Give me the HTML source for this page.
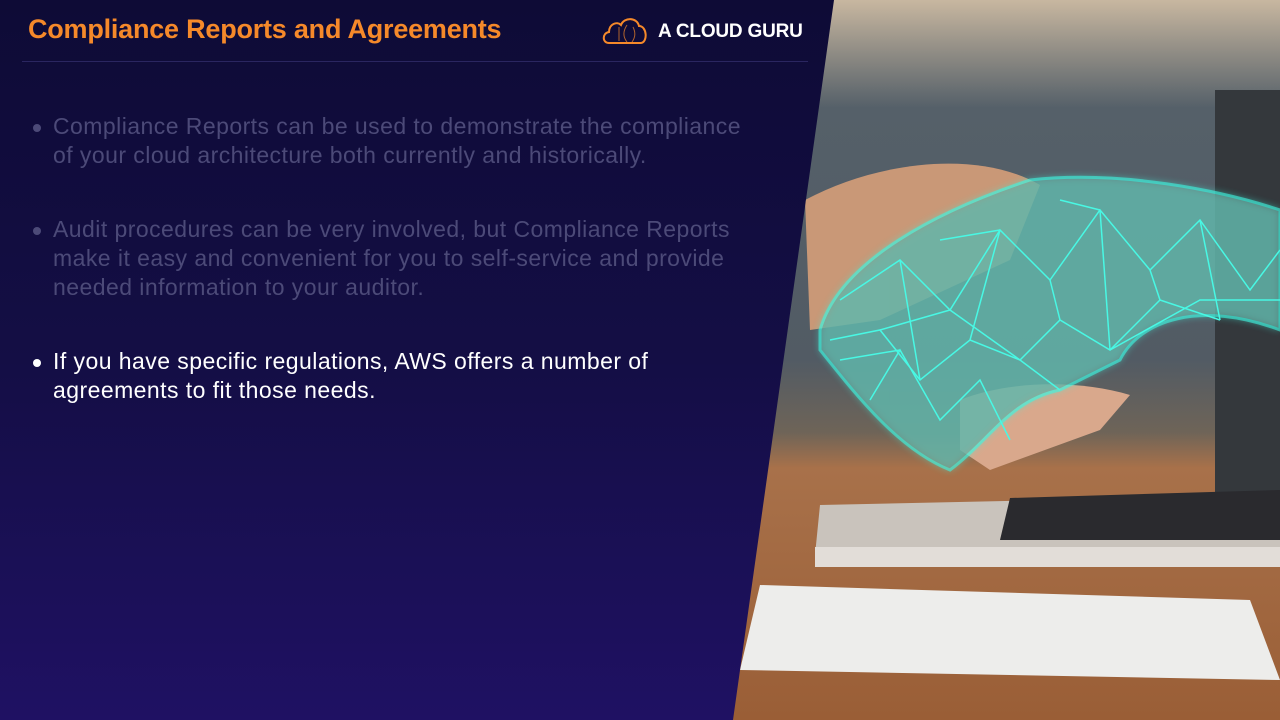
<!DOCTYPE html>
<html><head><meta charset="utf-8"><style>
html,body{margin:0;padding:0}
body{width:1280px;height:720px;overflow:hidden;position:relative;background:linear-gradient(180deg,#0e0b36 0%,#140e45 50%,#1f1163 100%);font-family:"Liberation Sans",sans-serif}
.title{position:absolute;left:28px;top:14px;font-size:27px;font-weight:bold;color:#f5892a;letter-spacing:-0.22px}
.logo{position:absolute;left:658px;top:21px;font-size:19px;font-weight:bold;color:#fff;letter-spacing:-0.2px}
.rule{position:absolute;left:22px;top:61px;width:786px;height:1px;background:#2a2660}
.b{position:absolute;left:53px;font-size:23px;line-height:29px;width:760px;letter-spacing:0.45px;white-space:nowrap}
.b:before{content:"";position:absolute;left:-20px;top:12px;width:8px;height:8px;border-radius:50%;background:currentColor}
.dim{color:#4c4a78}
.on{color:#fff}
</style></head><body>
<div class="title">Compliance Reports and Agreements</div>
<svg style="position:absolute;left:601px;top:15px" width="48" height="30" viewBox="0 0 48 30"><path d="M8 28 C1 28 1 18 8 17 C8 9 16 6 20 10 C23 2 36 2 38 11 C46 11 47 27 40 28 Z" fill="none" stroke="#f5892a" stroke-width="2"/><path d="M18 12 L18 26 M26 10 C22 16 22 22 26 27 M32 12 C35 18 34 23 31 27" stroke="#f5892a" stroke-width="1" fill="none" opacity=".7"/></svg>
<div class="logo">A CLOUD GURU</div>
<div class="rule"></div>
<div class="b dim" style="top:112px">Compliance Reports can be used to demonstrate the compliance<br>of your cloud architecture both currently and historically.</div>
<div class="b dim" style="top:215px">Audit procedures can be very involved, but Compliance Reports<br>make it easy and convenient for you to self-service and provide<br>needed information to your auditor.</div>
<div class="b on" style="top:347px">If you have specific regulations, AWS offers a number of<br>agreements to fit those needs.</div>
<svg style="position:absolute;left:0;top:0" width="1280" height="720">
<defs>
<clipPath id="c"><polygon points="834,0 1280,0 1280,720 733,720"/></clipPath>
<linearGradient id="bg" x1="0" y1="0" x2="0" y2="1">
<stop offset="0" stop-color="#c8b7a0"/><stop offset="0.08" stop-color="#8a8882"/><stop offset="0.15" stop-color="#556069"/><stop offset="0.5" stop-color="#525b64"/><stop offset="0.6" stop-color="#6e6458"/><stop offset="0.65" stop-color="#a8714a"/><stop offset="1" stop-color="#9a5e36"/></linearGradient>
<filter id="gl"><feGaussianBlur stdDeviation="4"/></filter>
</defs>
<g clip-path="url(#c)">
<rect x="700" y="0" width="580" height="720" fill="url(#bg)"/>
<rect x="1215" y="90" width="65" height="410" fill="#34383c"/>
<polygon points="820,505 1280,495 1280,555 815,555" fill="#c9c3bc"/>
<polygon points="1010,498 1280,490 1280,540 1000,540" fill="#2a2a2e"/>
<rect x="815" y="547" width="465" height="20" fill="#e2ddd8"/>
<polygon points="760,585 1250,600 1280,680 740,670" fill="#ededeb"/>
<path d="M805 200 C880 160 980 150 1040 185 L1010 260 L880 320 L810 330 Z" fill="#c99877"/>
<path d="M960 400 C1010 380 1080 380 1130 395 L1100 430 L990 470 L960 450 Z" fill="#d9a88c"/>
<path d="M820 330 C840 260 940 210 1030 180 C1120 170 1220 190 1280 210 L1280 330 C1200 300 1140 320 1120 360 L1060 390 C1010 400 990 440 950 470 C900 450 860 400 820 350 Z" fill="#3ff0dc" opacity=".6" filter="url(#gl)"/>
<path d="M820 330 C840 260 940 210 1030 180 C1120 170 1220 190 1280 210 L1280 330 C1200 300 1140 320 1120 360 L1060 390 C1010 400 990 440 950 470 C900 450 860 400 820 350 Z" fill="#6fa098" opacity=".6" stroke="#40f5e0" stroke-width="3"/>
<g stroke="#48f8e4" stroke-width="1.5" fill="none">
<path d="M840 300 L900 260 L950 310 L1000 230 L1050 280 L1100 210 L1150 270 L1200 220 L1250 290 L1280 250"/>
<path d="M830 340 L880 330 L920 380 L970 340 L1020 360 L1060 320 L1110 350 L1160 300 L1220 320"/>
<path d="M870 400 L900 350 L940 420 L980 380 L1010 440 M900 260 L920 380 M1000 230 L970 340 M1050 280 L1060 320 M1100 210 L1110 350 M1150 270 L1160 300 M1200 220 L1220 320 M950 310 L1020 360 M880 330 L950 310 M840 360 L900 350 M1020 360 L1060 390 M1110 350 L1200 300 L1280 300 M1060 200 L1100 210 M940 240 L1000 230"/>
</g>
</g>
</svg>
</body></html>
